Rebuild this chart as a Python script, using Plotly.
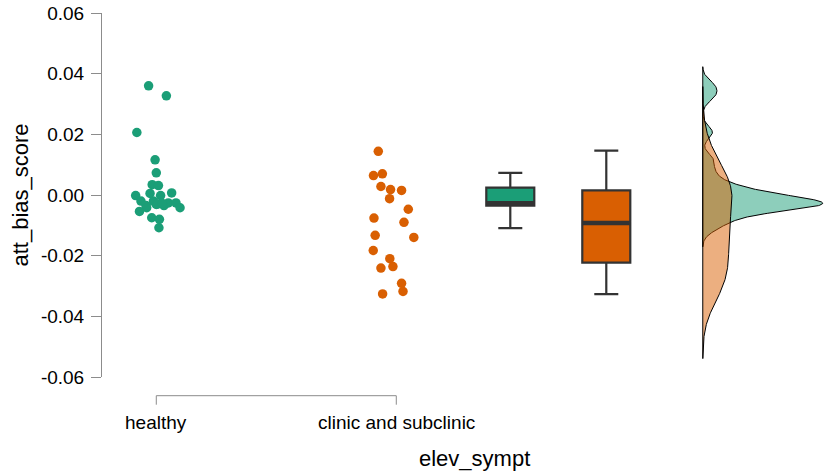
import numpy as np
import plotly.graph_objects as go

# ---------------- data ----------------
categories = ["healthy", "clinic and subclinic"]
cat_pos = [1, 2]

healthy_vals = [0.0360, 0.0327, 0.0206, 0.0116, 0.0073, 0.0034, 0.0031, -0.0002, 0.0005,
                -0.0002, 0.0007, -0.0020, -0.0035, -0.0031, -0.0035, -0.0026, -0.0026,
                -0.0042, -0.0042, -0.0054, -0.0075, -0.0080, -0.0108, -0.0020,
                -0.0030, -0.0028]
healthy_jitter = [-0.032, 0.042, -0.081, -0.005, 0.0, -0.017, 0.009, -0.086, -0.026,
                  0.018, 0.064, -0.064, -0.043, 0.0, 0.032, 0.050, 0.082,
                  0.099, -0.040, -0.070, -0.019, 0.013, 0.011, -0.012,
                  0.005, 0.025]

clinic_vals = [0.0144, 0.0064, 0.0070, 0.0028, 0.0018, 0.0015, -0.0012, -0.0047, -0.0076,
               -0.0090, -0.0133, -0.0140, -0.0183, -0.0210, -0.0241, -0.0236, -0.0291,
               -0.0318, -0.0326]
clinic_jitter = [-0.075, -0.095, -0.058, -0.064, -0.024, 0.022, -0.028, 0.050, -0.093,
                 0.032, -0.088, 0.073, -0.096, -0.027, -0.064, -0.014, 0.022,
                 0.028, -0.057]

# box statistics
box_pos = [2.475, 2.875]
box_q1 = [-0.0035, -0.0223]
box_median = [-0.0027, -0.0092]
box_q3 = [0.0024, 0.0015]
box_low = [-0.0109, -0.0327]
box_high = [0.0073, 0.0146]

density_base = 3.277
density_maxwidth = 0.5

y_tickvals = [-0.06, -0.04, -0.02, 0.0, 0.02, 0.04, 0.06]
y_ticktext = ["-0.06", "-0.04", "-0.02", "0.00", "0.02", "0.04", "0.06"]

colors = ["#1b9e77", "#d95f02"]
fills = ["rgba(27,158,119,0.5)", "rgba(217,95,2,0.5)"]

FONT = "Liberation Sans, Arial, Helvetica, sans-serif"

# ---------------- layout geometry ----------------
W, H = 827, 471
plot_left, plot_top, plot_bottom = 102, 13.3, 377.3
ml, mr, mt, mb = plot_left, 0, plot_top, H - plot_bottom
plot_h = plot_bottom - plot_top
plot_w = W - plot_left
x_range = [0.7738, 3.7946]
y_range = [-0.06, 0.06]


def kde(vals):
    v = np.asarray(vals, dtype=float)
    n = len(v)
    sd = v.std(ddof=1)
    q75, q25 = np.percentile(v, [75, 25])
    bw = 0.9 * min(sd, (q75 - q25) / 1.34) * n ** -0.2
    grid = np.linspace(v.min() - 3 * bw, v.max() + 3 * bw, 512)
    dens = np.exp(-0.5 * ((grid[:, None] - v[None, :]) / bw) ** 2).sum(1) / (n * bw * np.sqrt(2 * np.pi))
    return grid, dens


fig = go.Figure()

# densities
dens_data = [kde(healthy_vals), kde(clinic_vals)]
dmax = max(d.max() for _, d in dens_data)
scale = density_maxwidth / dmax
for (g, d), fc in zip(dens_data, fills):
    xs = np.concatenate([density_base + d * scale, [density_base, density_base]])
    ys = np.concatenate([g, [g[-1], g[0]]])
    fig.add_trace(go.Scatter(x=xs, y=ys, mode="lines", fill="toself", fillcolor=fc,
                             line=dict(color="black", width=1), hoverinfo="skip"))

# points
for pos, vals, jit, col in [(cat_pos[0], healthy_vals, healthy_jitter, colors[0]),
                            (cat_pos[1], clinic_vals, clinic_jitter, colors[1])]:
    fig.add_trace(go.Scatter(x=[pos + j for j in jit], y=vals, mode="markers",
                             marker=dict(size=9.5, color=col, line=dict(width=0)),
                             hoverinfo="skip"))

# boxes
for i in range(2):
    fig.add_trace(go.Box(x=[box_pos[i]], q1=[box_q1[i]], median=[box_median[i]], q3=[box_q3[i]],
                         lowerfence=[box_low[i]], upperfence=[box_high[i]],
                         width=0.2, whiskerwidth=0.5, fillcolor=colors[i],
                         line=dict(color="#333333", width=2.2), boxpoints=False,
                         hoverinfo="skip"))
    fig.add_trace(go.Scatter(x=[box_pos[i] - 0.1, box_pos[i] + 0.1],
                             y=[box_median[i], box_median[i]], mode="lines",
                             line=dict(color="#333333", width=4.5), hoverinfo="skip"))


def px_to_paper_y(py):
    return (plot_bottom - py) / plot_h


def x_to_paper(v):
    return (v - x_range[0]) / (x_range[1] - x_range[0])


axis_y = px_to_paper_y(396)
tick_y = px_to_paper_y(405)
axis_col = "#8c8c8c"
shapes = [dict(type="line", xref="paper", yref="paper", x0=x_to_paper(cat_pos[0]),
               x1=x_to_paper(cat_pos[1]), y0=axis_y, y1=axis_y,
               line=dict(color=axis_col, width=1))]
for p in cat_pos:
    shapes.append(dict(type="line", xref="paper", yref="paper", x0=x_to_paper(p), x1=x_to_paper(p),
                       y0=axis_y, y1=tick_y, line=dict(color=axis_col, width=1)))

annotations = []
for p, c in zip(cat_pos, categories):
    annotations.append(dict(x=x_to_paper(p), xref="paper", y=px_to_paper_y(422.7), yref="paper",
                            text=c, showarrow=False, xanchor="center", yanchor="middle",
                            font=dict(family=FONT, size=19, color="black")))
annotations.append(dict(x=x_to_paper(1 + (475 - 156.3) / 240), xref="paper",
                        y=px_to_paper_y(458.7), yref="paper", text="elev_sympt",
                        showarrow=False, xanchor="center", yanchor="middle",
                        font=dict(family=FONT, size=22, color="black")))
annotations.append(dict(x=(19.5 - plot_left) / plot_w, xref="paper", y=0.5, yref="paper",
                        text="att_bias_score", textangle=-90, showarrow=False,
                        xanchor="center", yanchor="middle",
                        font=dict(family=FONT, size=22, color="black")))

fig.update_layout(
    width=W, height=H,
    margin=dict(l=ml, r=mr, t=mt, b=mb, pad=0),
    paper_bgcolor="white", plot_bgcolor="white",
    showlegend=False,
    xaxis=dict(range=x_range, visible=False, fixedrange=True),
    yaxis=dict(range=y_range, showgrid=False, zeroline=False, showline=True,
               linecolor=axis_col, linewidth=1, ticks="outside", ticklen=10,
               tickcolor=axis_col, tickwidth=1, tickvals=y_tickvals, ticktext=y_ticktext,
               ticklabeloverflow="allow", ticklabelstandoff=3,
               tickfont=dict(family=FONT, size=19, color="black"), fixedrange=True),
    shapes=shapes, annotations=annotations,
)

fig.write_html("out.html", config={"displayModeBar": False},
               post_script="document.body.style.margin='0';document.body.style.overflow='hidden';")
